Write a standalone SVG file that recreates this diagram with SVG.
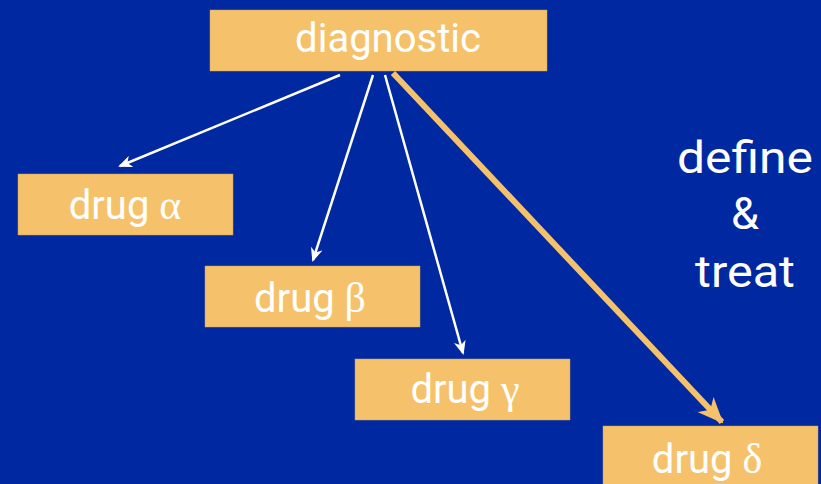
<svg xmlns="http://www.w3.org/2000/svg" width="821" height="484" viewBox="0 0 821 484">
<style>
.box{fill:#F5C26B;stroke:#C8A060;stroke-width:0.5}
.lbl{font-family:Roboto,"Liberation Sans",sans-serif;font-size:40px;fill:#fff;text-anchor:middle}
.gk{font-family:"Liberation Serif","DejaVu Serif",serif;font-size:42px}
.side{font-family:Roboto,"Liberation Sans",sans-serif;font-size:45px;fill:#fff;text-anchor:middle}
.thin{stroke:#fff;stroke-width:2.5;fill:none}
.thick{stroke:#F5C26B;stroke-width:6;fill:none}
</style>
<defs>
<marker id="aw" viewBox="0 0 14 12" refX="12" refY="6" markerWidth="14" markerHeight="12" markerUnits="userSpaceOnUse" orient="auto">
<path d="M0,0 L14,6 L0,12 L4,6 Z" fill="#fff"/>
</marker>
<marker id="ao" viewBox="0 0 26 22" refX="24" refY="11" markerWidth="26" markerHeight="22" markerUnits="userSpaceOnUse" orient="auto">
<path d="M0,0 L26,11 L0,22 L7,11 Z" fill="#F5C26B"/>
</marker>
</defs>
<rect width="821" height="484" fill="#0028A0"/>
<g id="connectors">
<line class="thin" x1="340" y1="75" x2="120" y2="166" marker-end="url(#aw)"/>
<line class="thin" x1="373" y1="75" x2="313" y2="260" marker-end="url(#aw)"/>
<line class="thin" x1="385" y1="75" x2="463" y2="353" marker-end="url(#aw)"/>
<line class="thick" x1="393" y1="73" x2="722" y2="422" marker-end="url(#ao)"/>
</g>
<g id="diagnostic">
<rect class="box" x="210" y="10" width="337" height="61"/>
<text class="lbl" x="388" y="52">diagnostic</text>
</g>
<g id="drug-alpha">
<rect class="box" x="18" y="174" width="215" height="61"/>
<text class="lbl" x="125" y="219">drug <tspan class="gk">α</tspan></text>
</g>
<g id="drug-beta">
<rect class="box" x="205" y="266" width="215" height="61"/>
<text class="lbl" x="310" y="312">drug <tspan class="gk">β</tspan></text>
</g>
<g id="drug-gamma">
<rect class="box" x="355" y="359" width="215" height="61"/>
<text class="lbl" x="465" y="403">drug <tspan class="gk">γ</tspan></text>
</g>
<g id="drug-delta">
<rect class="box" x="603" y="426" width="215" height="61"/>
<text class="lbl" x="707" y="473">drug <tspan class="gk">δ</tspan></text>
</g>
<g id="side-text">
<text class="side" x="745" y="173" textLength="136" lengthAdjust="spacingAndGlyphs">define</text>
<text class="side" x="745" y="229">&amp;</text>
<text class="side" x="745" y="287" textLength="100" lengthAdjust="spacingAndGlyphs">treat</text>
</g>
</svg>
